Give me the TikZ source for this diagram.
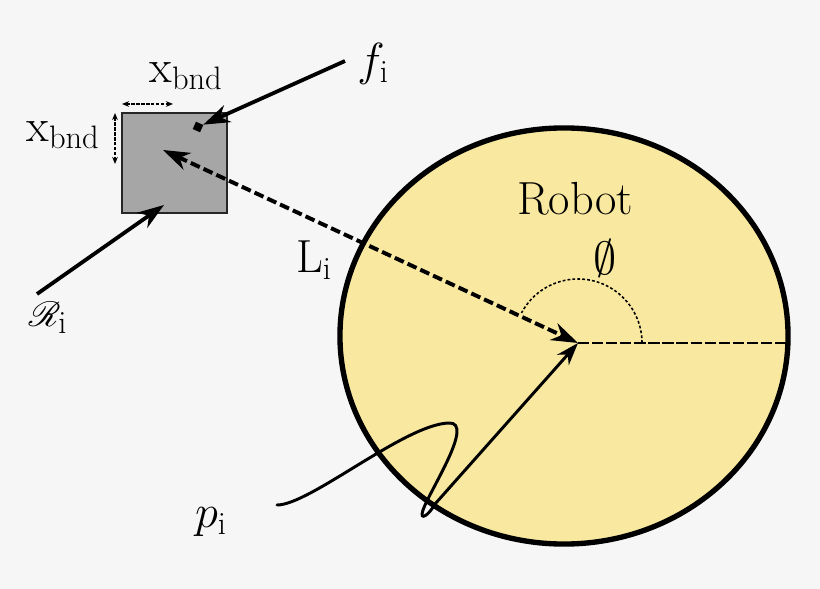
\RequirePackage{fix-cm}
\documentclass[tikz,border=0pt]{standalone}
\usepackage{amsmath}
\usepackage{amssymb}
\usepackage{mathrsfs}
\usepackage{fontspec}
\usetikzlibrary{arrows.meta}
\definecolor{bgcol}{HTML}{F6F6F6}
\definecolor{robotcol}{HTML}{F9E89F}
\definecolor{obstcol}{HTML}{A6A6A6}
\tikzstyle{every node}=[inner sep=0pt,font=\fontsize{33}{40}\selectfont]
\tikzstyle{robotbody}=[draw=black,line width=3.8pt,fill=robotcol]
\tikzstyle{obstacle}=[draw=black!85,line width=2pt,fill=obstcol,minimum width=2.62cm,minimum height=2.5cm]
\tikzstyle{tipsq}=[fill=black,minimum size=0.2cm]
\tikzstyle{force}=[line width=2.7pt,-{Stealth[length=19pt,width=13pt,inset=6pt]}]
\tikzstyle{distline}=[line width=2.8pt,dash pattern=on 7pt off 3pt,{Stealth[length=19pt,width=13pt,inset=6pt]}-{Stealth[length=19pt,width=13pt,inset=6pt]}]
\tikzstyle{dimline}=[line width=0.8pt,dash pattern=on 2.5pt off 1pt,{Stealth[length=5pt,width=4pt]}-{Stealth[length=5pt,width=4pt]}]
\tikzstyle{axisline}=[line width=1.6pt,dash pattern=on 8pt off 2pt]
\tikzstyle{phiarc}=[line width=1.1pt,dash pattern=on 2pt off 1.5pt]
\tikzstyle{trajline}=[line width=2.1pt,line cap=round,-{Stealth[length=16pt,width=11pt,inset=5pt]}]

\begin{document}
\begin{tikzpicture}[x=0.025cm,y=-0.025cm]
  \fill[bgcol] (0,0) rectangle (820,589);
  \useasboundingbox (0,0) rectangle (820,589);
  \draw[robotbody] (564,336) ellipse [x radius=5.6cm,y radius=5.2cm];
  \coordinate (ctr) at (578,343);
  \coordinate (rim) at (788,343);
  \draw[axisline] (ctr) -- (rim);
  \draw[phiarc] (ctr) ++(1.6cm,0) arc[start angle=0,end angle=152,radius=1.6cm];
  \node (robotlbl) at (575,199) {Robot};
  \node (philbl) at (605,258) {$\emptyset$};
  \node[obstacle] (obst) at (174.5,163) {};
  \coordinate (hdimA) at (122,104);
  \coordinate (hdimB) at (173,104);
  \coordinate (vdimA) at (115,113);
  \coordinate (vdimB) at (115,164);
  \draw[dimline] (hdimA) -- (hdimB);
  \draw[dimline] (vdimA) -- (vdimB);
  \node (xtop) at (186,76) {$\mathrm{x}_{\mathrm{bnd}}$};
  \node (xleft) at (63,135) {$\mathrm{x}_{\mathrm{bnd}}$};
  \coordinate (fstart) at (345,61);
  \node[tipsq,rotate=-24] (fmark) at (198,127) {};
  \draw[force] (fstart) -- (fmark);
  \node (flbl) at (373,64) {$f_{\mathrm{i}}$};
  \coordinate (rstart) at (37,294);
  \coordinate (rend) at (164,205);
  \draw[force] (rstart) -- (rend);
  \node (rlbl) at (48,318) {$\mathscr{R}_{\mathrm{i}}$};
  \coordinate (lend) at (163,150);
  \draw[distline] (lend) -- (ctr);
  \node (llbl) at (314,260) {$\mathrm{L}_{\mathrm{i}}$};
  \coordinate (pstart) at (277,505);
  \coordinate (ppeak) at (449,423);
  \coordinate (ploop) at (423,510);
  \coordinate (pturn) at (435,504);
  \draw[trajline] (pstart) .. controls (310,505) and (405,424) .. (ppeak)
    .. controls (475,422) and (430,490) .. (ploop)
    .. controls (419,522) and (429,515) .. (pturn) -- (ctr);
  \node (plbl) at (211,522) {$p_{\mathrm{i}}$};
\end{tikzpicture}
\end{document}
